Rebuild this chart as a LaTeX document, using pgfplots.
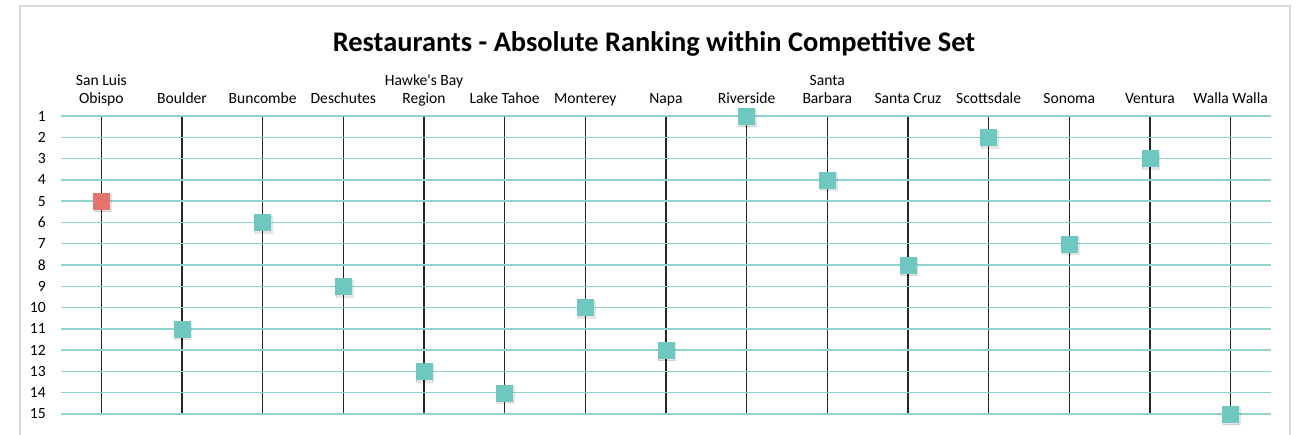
\documentclass[border=0pt]{standalone}
\usepackage{fontspec}
\setmainfont{Carlito}
\usepackage{pgfplots}
\pgfplotsset{compat=1.18}
\definecolor{teal1}{HTML}{6FC8BF}
\definecolor{grid1}{HTML}{8ED4CC}
\definecolor{red1}{HTML}{E6746E}
\definecolor{frame1}{HTML}{D9D9D9}
\begin{document}
\begin{tikzpicture}
\path[use as bounding box] (0pt,0pt) rectangle (1296pt,-434pt);
\draw[frame1, line width=1.5pt] (20pt,-450pt) -- (20pt,-6pt) -- (1290pt,-6pt) -- (1290pt,-450pt);
\node[font=\fontsize{28.4}{32}\selectfont\bfseries] at (654pt,-44pt) {Restaurants - Absolute Ranking within Competitive Set};
\begin{axis}[
  at={(61pt,-414pt)}, anchor=south west,
  scale only axis, width=1210pt, height=298pt,
  xmin=-0.5, xmax=14.5, ymin=1, ymax=15, y dir=reverse,
  axis line style={draw=none}, tick style={draw=none},
  xtick={0,...,14}, ytick={1,...,15},
  xticklabel pos=upper,
  xticklabels={{San Luis\\Obispo},{\\Boulder},{\\Buncombe},{\\Deschutes},{Hawke\textquotesingle s Bay\\Region},{\\Lake Tahoe},{\\Monterey},{\\Napa},{\\Riverside},{Santa\\Barbara},{\\Santa Cruz},{\\Scottsdale},{\\Sonoma},{\\Ventura},{\\Walla Walla}},
  xticklabel style={align=center, font=\fontsize{15.6}{18}\selectfont, anchor=south, text depth=0pt, inner sep=0pt, yshift=12pt},
  yticklabel style={font=\fontsize{15.6}{16}\selectfont, anchor=east, inner sep=0pt, xshift=-15pt},
  /pgf/number format/assume math mode=true,
  xmajorgrids, ymajorgrids,
  x grid style={black!85, line width=1.2pt},
  y grid style={grid1, line width=1.5pt},
  clip=false,
]
\addplot[only marks, mark=square*, mark size=8.5pt, mark options={draw=none, fill=black, opacity=0.1, xshift=1pt, yshift=-2pt}] coordinates {
 (0,5) (1,11) (2,6) (3,9) (4,13) (5,14) (6,10) (7,12) (8,1) (9,4) (10,8) (11,2) (12,7) (13,3) (14,15)};
\addplot[only marks, mark=square*, mark size=8pt, mark options={draw=teal1, fill=teal1}] coordinates {
 (1,11) (2,6) (3,9) (4,13) (5,14) (6,10) (7,12) (8,1) (9,4) (10,8) (11,2) (12,7) (13,3) (14,15)};
\addplot[only marks, mark=square*, mark size=8pt, mark options={draw=red1, fill=red1}] coordinates {(0,5)};
\end{axis}
\end{tikzpicture}
\end{document}
